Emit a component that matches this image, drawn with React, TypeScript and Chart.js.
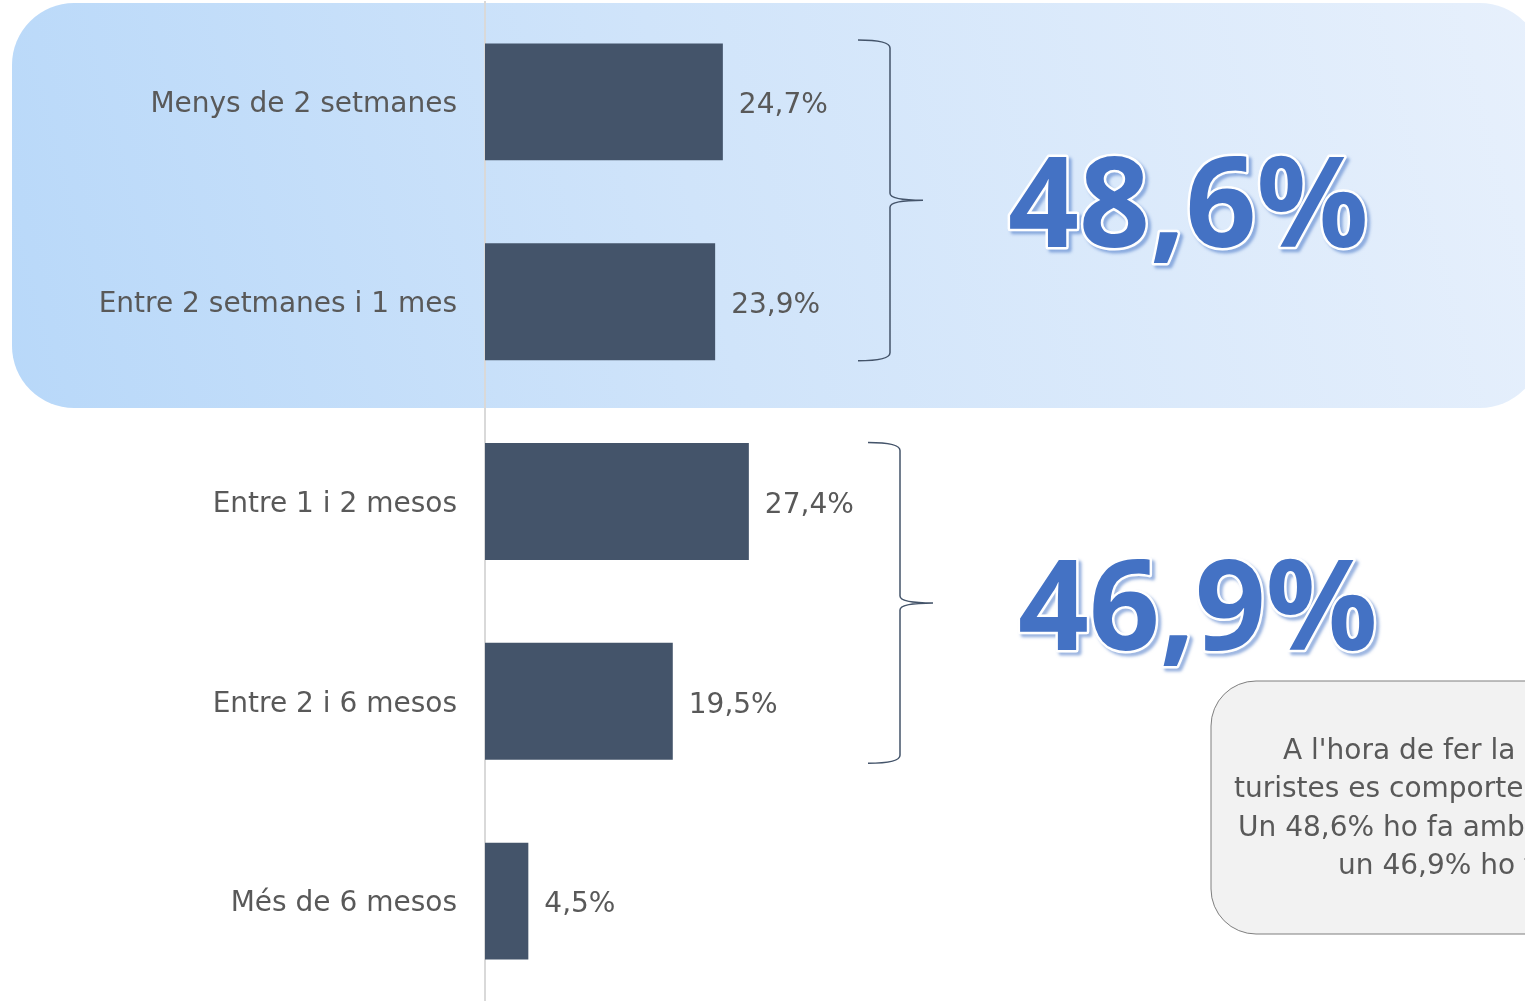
import React, { useEffect, useRef } from "react";
import { Chart, registerables } from "chart.js";

Chart.register(...registerables);

const categories = [
  "Menys de 2 setmanes",
  "Entre 2 setmanes i 1 mes",
  "Entre 1 i 2 mesos",
  "Entre 2 i 6 mesos",
  "Més de 6 mesos",
];
const values = [24.7, 23.9, 27.4, 19.5, 4.5];
const groupTotals = ["48,6%", "46,9%"];
const groupFirst = [0, 2];
const groupLast = [1, 3];
const noteLines = [
  "A l'hora de fer la reserva, els",
  "turistes es comporten de manera diferent.",
  "Un 48,6% ho fa amb menys d'un mes",
  "un 46,9% ho fa amb més temps.",
];

const FONT = '"DejaVu Sans", sans-serif';
const TEXT = "#595959";
const BAR = "#44546a";

function fmt(v: number) {
  return v.toFixed(1).replace(".", ",") + "%";
}

const decorPlugin = {
  id: "decor",
  beforeDraw(chart: any) {
    const ctx = chart.ctx as CanvasRenderingContext2D;
    ctx.save();
    ctx.fillStyle = "#ffffff";
    ctx.fillRect(0, 0, chart.width, chart.height);
    const g = ctx.createLinearGradient(12, 408, 1540, 3);
    g.addColorStop(0, "#b8d8f9");
    g.addColorStop(0.45, "#d0e4fa");
    g.addColorStop(1, "#e7f0fc");
    ctx.fillStyle = g;
    ctx.beginPath();
    (ctx as any).roundRect(12, 3, 1530, 405, 62);
    ctx.fill();
    ctx.restore();
  },
  afterDatasetsDraw(chart: any) {
    const ctx = chart.ctx as CanvasRenderingContext2D;
    const meta = chart.getDatasetMeta(0);
    ctx.save();
    ctx.font = `28px ${FONT}`;
    ctx.fillStyle = TEXT;
    ctx.textAlign = "left";
    ctx.textBaseline = "middle";
    meta.data.forEach((bar: any, i: number) => {
      ctx.fillText(fmt(values[i]), bar.x + 16, bar.y + 4);
    });

    const yScale = chart.scales.y;
    const braceX = [
      { tip: 858, v: 890, p: 923 },
      { tip: 868, v: 900, p: 933 },
    ];
    const bigPos = [
      { left: 1010, top: 157, w: 355, h: 90 },
      { left: 1020, top: 560, w: 354, h: 90 },
    ];
    groupTotals.forEach((label, gi) => {
      const top = yScale.getPixelForValue(groupFirst[gi]) - 62 + gi * 3;
      const bottom = yScale.getPixelForValue(groupLast[gi]) + 59 + gi * 3;
      const mid = (top + bottom) / 2;
      const b = braceX[gi];
      ctx.strokeStyle = BAR;
      ctx.lineWidth = 1.5;
      ctx.beginPath();
      ctx.moveTo(b.tip, top);
      ctx.quadraticCurveTo(b.v, top, b.v, top + 8);
      ctx.lineTo(b.v, mid - 7);
      ctx.quadraticCurveTo(b.v, mid, b.p, mid);
      ctx.quadraticCurveTo(b.v, mid, b.v, mid + 7);
      ctx.lineTo(b.v, bottom - 8);
      ctx.quadraticCurveTo(b.v, bottom, b.tip, bottom);
      ctx.stroke();

      const p = bigPos[gi];
      ctx.save();
      ctx.font = `bold 126px "Noto Sans", sans-serif`;
      ctx.textAlign = "left";
      ctx.textBaseline = "alphabetic";
      const m = ctx.measureText(label);
      const d = ctx.measureText("4");
      const w0 = m.actualBoundingBoxRight + m.actualBoundingBoxLeft;
      const h0 = d.actualBoundingBoxAscent;
      const sx = p.w / w0;
      const sy = p.h / h0;
      ctx.translate(p.left, p.top + p.h);
      ctx.scale(sx, sy);
      const x0 = m.actualBoundingBoxLeft;
      ctx.lineJoin = "round";
      ctx.shadowColor = "rgba(68,114,196,0.55)";
      ctx.shadowOffsetX = 3;
      ctx.shadowOffsetY = 3;
      ctx.shadowBlur = 3;
      ctx.strokeStyle = "#ffffff";
      ctx.lineWidth = 5;
      ctx.strokeText(label, x0, 0);
      ctx.shadowColor = "transparent";
      ctx.fillStyle = "#4472c4";
      ctx.fillText(label, x0, 0);
      ctx.restore();
    });

    ctx.beginPath();
    (ctx as any).roundRect(1211, 681, 420, 253, 45);
    ctx.fillStyle = "#f2f2f2";
    ctx.fill();
    ctx.strokeStyle = "#7f7f7f";
    ctx.lineWidth = 1;
    ctx.stroke();
    ctx.font = `28px ${FONT}`;
    ctx.fillStyle = TEXT;
    ctx.textAlign = "left";
    ctx.textBaseline = "middle";
    const noteX = [1283, 1234, 1238, 1338];
    const noteY = [752, 790, 829, 867];
    noteLines.forEach((t, i) => ctx.fillText(t, noteX[i], noteY[i]));
    ctx.restore();
  },
};

export default function App() {
  const ref = useRef<HTMLCanvasElement>(null);
  useEffect(() => {
    document.body.style.margin = "0";
    document.body.style.overflow = "hidden";
    const chart = new Chart(ref.current as HTMLCanvasElement, {
      type: "bar",
      data: {
        labels: categories,
        datasets: [
          {
            data: values,
            backgroundColor: BAR,
            borderWidth: 0,
            barPercentage: 0.585,
            categoryPercentage: 1,
          },
        ],
      },
      options: {
        indexAxis: "y",
        responsive: false,
        animation: false,
        layout: { padding: { top: 2, right: 0, bottom: 0, left: 0 } },
        plugins: { legend: { display: false }, tooltip: { enabled: false } },
        scales: {
          x: { display: false, min: 0, max: 108 },
          y: {
            afterFit: (s: any) => {
              s.width = 485;
              s.paddingTop = 0;
              s.paddingBottom = 0;
            },
            grid: { display: false, drawTicks: false },
            border: { display: true, color: "#d9d9d9", width: 2 },
            ticks: {
              padding: 28,
              labelOffset: 3,
              color: TEXT,
              font: { family: FONT, size: 28 },
            },
          },
        },
      },
      plugins: [decorPlugin],
    } as any);
    return () => chart.destroy();
  }, []);
  return (
    <div style={{ position: "absolute", left: 0, top: 0, width: 1525, height: 1001, overflow: "hidden" }}>
      <canvas ref={ref} width={1525} height={1001} style={{ width: 1525, height: 1001, display: "block" }} />
    </div>
  );
}
